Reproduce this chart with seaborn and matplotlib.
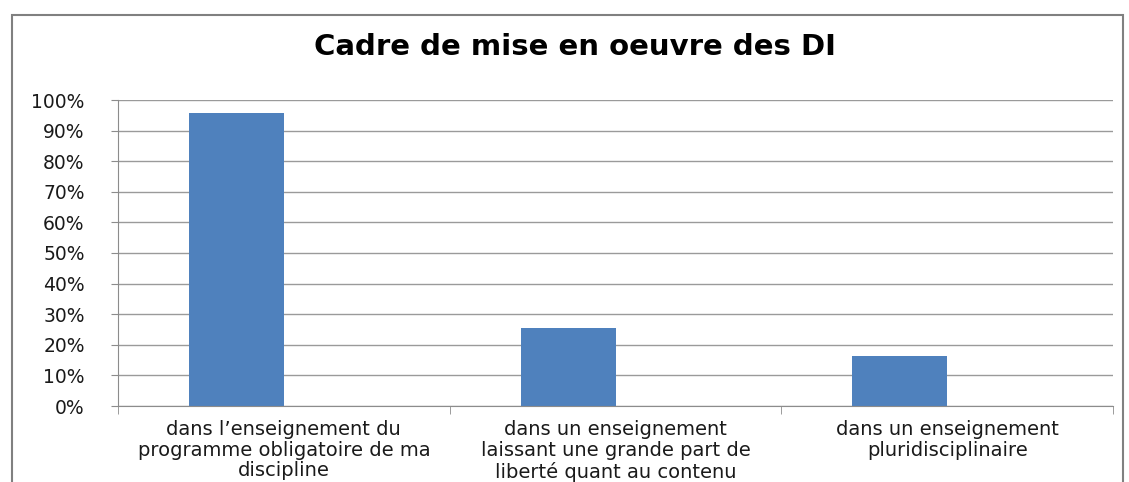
import numpy as np
import pandas as pd
import matplotlib
matplotlib.use("Agg")
import matplotlib.pyplot as plt
import seaborn as sns
from matplotlib.patches import Rectangle
from matplotlib.ticker import PercentFormatter, FixedLocator

title = "Cadre de mise en oeuvre des DI"
categories = [
    "dans l\u2019enseignement du\nprogramme obligatoire de ma\ndiscipline",
    "dans un enseignement\nlaissant une grande part de\nlibert\u00e9 quant au contenu",
    "dans un enseignement\npluridisciplinaire",
]
values = [95.6, 25.5, 16.3]
# Excel-style chart had an empty second series that reserves space
empty_series = [0, 0, 0]

df = pd.DataFrame({
    "cat": categories * 2,
    "val": values + empty_series,
    "serie": ["s1"] * 3 + ["s2"] * 3,
})

sns.set_style("white")
plt.rcParams['font.family'] = ['DejaVu Sans']

fig = plt.figure(figsize=(11.29, 4.82), dpi=100)
ax = fig.add_axes([118 / 1129, 1 - 406 / 482, (1113 - 118) / 1129, (406 - 100) / 482])

sns.barplot(data=df, x="cat", y="val", hue="serie", hue_order=["s1", "s2"],
            palette=["#4f81bd", "white"], saturation=1, width=0.572, gap=0,
            linewidth=0, legend=False, ax=ax)

ax.set_ylim(0, 100)
ax.set_xlim(-0.5, 2.5)
ax.yaxis.set_major_locator(FixedLocator(np.arange(0, 101, 10)))
ax.yaxis.set_major_formatter(PercentFormatter(decimals=0))
ax.grid(axis="y", color="#9a9a9a", linewidth=1)
ax.set_axisbelow(True)

for s in ["top", "right"]:
    ax.spines[s].set_visible(False)
ax.spines["left"].set_color("#8c8c8c")
ax.spines["bottom"].set_color("#8c8c8c")

ax.tick_params(axis="y", length=5, color="#8c8c8c", labelsize=13.5, pad=19,
               labelcolor="#1a1a1a", left=True)
ax.xaxis.set_minor_locator(FixedLocator([-0.5, 0.5, 1.5, 2.5]))
ax.tick_params(axis="x", which="major", length=0, labelsize=14, pad=10,
               labelcolor="#1a1a1a")
ax.tick_params(axis="x", which="minor", length=6, color="#8c8c8c", bottom=True)
for lbl in ax.get_xticklabels():
    lbl.set_linespacing(1.12)
ax.set_xlabel("")
ax.set_ylabel("")

fig.text(575 / 1129, 1 - 47 / 482, title, ha="center", va="center",
         fontsize=21, fontweight="bold", color="black")

fig.patches.append(Rectangle((12 / 1129, -0.1), (1123 - 12) / 1129, 1.1 - 15 / 482,
                             transform=fig.transFigure, fill=False,
                             edgecolor="#808080", linewidth=1.5))

fig.savefig("out.png", dpi=100)
